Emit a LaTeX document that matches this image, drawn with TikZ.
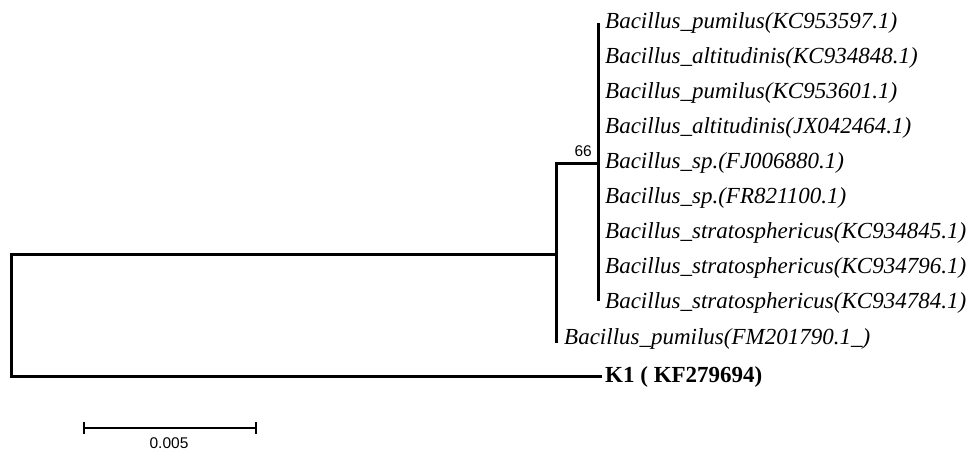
\documentclass[tikz,border=0pt]{standalone}
\usepackage{fontspec}
\setmainfont{Liberation Serif}
\newfontfamily\arialf{Liberation Sans}
\begin{document}
\begin{tikzpicture}[x=1pt,y=-1pt,
  branch/.style={line width=3pt,line cap=rect},
  leaf/.style={anchor=west,inner sep=0pt,font=\fontsize{23}{23}\selectfont\itshape},
  boot/.style={font=\arialf\fontsize{15.5}{15.5}\selectfont,inner sep=0pt},
  scalebar/.style={line width=2pt}]
\useasboundingbox (0,0) rectangle (970,451);
% internal nodes
\coordinate (root) at (11,254);
\coordinate (n1) at (556,254);
\coordinate (n2) at (598,163);
% leaves
\foreach \i/\t in {1/{Bacillus\_pumilus(KC953597.1)},
                   2/{Bacillus\_altitudinis(KC934848.1)},
                   3/{Bacillus\_pumilus(KC953601.1)},
                   4/{Bacillus\_altitudinis(JX042464.1)},
                   5/{Bacillus\_sp.(FJ006880.1)},
                   6/{Bacillus\_sp.(FR821100.1)},
                   7/{Bacillus\_stratosphericus(KC934845.1)},
                   8/{Bacillus\_stratosphericus(KC934796.1)},
                   9/{Bacillus\_stratosphericus(KC934784.1)}}{
  \coordinate (c\i) at (598,{-12+35*\i});
  \node[leaf] (t\i) at (605,{-12+35*\i}) {\t};
}
\coordinate (c10) at (556,341);
\node[leaf] (t10) at (564,339) {Bacillus\_pumilus(FM201790.1\_)};
\coordinate (c11) at (600,376);
\node[anchor=west,inner sep=0pt,font=\fontsize{23}{23}\selectfont\bfseries] (t11) at (605,377) {K1 ( KF279694)};
% tree
\draw[branch] ([yshift=-1pt]c1) -- ([yshift=4pt]c9);
\draw[branch] (n2) -| (n1 |- c10);
\draw[branch] (n1) -- (root) -- (11,376) -- (c11);
\node[boot,anchor=south east] (b66) at (592,157) {66};
% scale bar
\coordinate (s1) at (84,428);
\coordinate (s2) at (256,428);
\draw[scalebar] (s1) -- (s2);
\draw[scalebar] (84,422) -- (84,434);
\draw[scalebar] (256,422) -- (256,434);
\node[boot] (sl) at (169,443) {0.005};
\end{tikzpicture}
\end{document}
